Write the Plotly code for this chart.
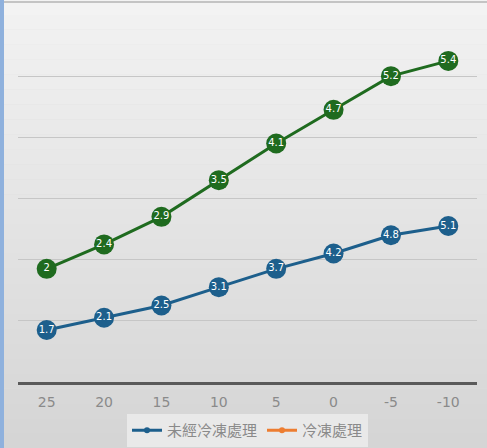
import numpy as np
import plotly.graph_objects as go

categories = ["25", "20", "15", "10", "5", "0", "-5", "-10"]
untreated = [1.7, 2.1, 2.5, 3.1, 3.7, 4.2, 4.8, 5.1]
frozen = [2, 2.4, 2.9, 3.5, 4.1, 4.7, 5.2, 5.4]
series_names = ["未經冷凍處理", "冷凍處理"]

stacked_top = (np.array(untreated) + np.array(frozen)).tolist()

def fmt(v):
    return f"{v:g}"

BLUE = "#1d5f8c"
GREEN = "#1f6b1f"
ORANGE = "#ed7d31"
FONT = "Noto Sans CJK TC, Noto Sans, sans-serif"

fig = go.Figure()
fig.add_trace(go.Scatter(
    x=categories, y=untreated, name=series_names[0],
    mode="lines+markers+text", showlegend=False,
    text=[fmt(v) for v in untreated], textposition="middle center",
    textfont=dict(color="white", size=10, family="DejaVu Sans"),
    line=dict(color=BLUE, width=3),
    marker=dict(color=BLUE, size=20),
    cliponaxis=False,
))
fig.add_trace(go.Scatter(
    x=categories, y=stacked_top, name=series_names[1],
    mode="lines+markers+text", showlegend=False,
    text=[fmt(v) for v in frozen], textposition="middle center",
    textfont=dict(color="white", size=10, family="DejaVu Sans"),
    line=dict(color=GREEN, width=3),
    marker=dict(color=GREEN, size=20),
    cliponaxis=False,
))
# legend entries as shown in the reference
for nm, col in zip(series_names, [BLUE, ORANGE]):
    fig.add_trace(go.Scatter(
        x=[None], y=[None], name=nm,
        mode="lines+markers",
        line=dict(color=col, width=3),
        marker=dict(color=col, size=6),
    ))

W, H = 487, 448
L, R, T, B = 18, 10, 15, 66
pw, ph = W - L - R, H - T - B

shapes = []
n = 30
top = np.array([0xf3, 0xf3, 0xf3])
bot = np.array([0xd5, 0xd5, 0xd5])
y0p = -B / ph
y1p = 1 + T / ph
for i in range(n):
    t = i / (n - 1)
    c = (top * (1 - t) + bot * t).astype(int)
    ya = y1p - (y1p - y0p) * i / n
    yb = y1p - (y1p - y0p) * (i + 1) / n
    shapes.append(dict(type="rect", xref="paper", yref="paper",
                       x0=-L / pw, x1=1 + R / pw, y0=yb, y1=ya,
                       fillcolor=f"rgb({c[0]},{c[1]},{c[2]})",
                       line=dict(width=0), layer="below"))
shapes.append(dict(type="rect", xref="paper", yref="paper",
                   x0=-L / pw, x1=-(L - 4) / pw, y0=y0p, y1=y1p,
                   fillcolor="#8fb1dd", line=dict(width=0), layer="below"))
shapes.append(dict(type="line", xref="paper", yref="paper",
                   x0=-(L - 4) / pw, x1=1 + R / pw, y0=1 + (T - 2) / ph, y1=1 + (T - 2) / ph,
                   line=dict(color="#c4c4c4", width=2), layer="below"))

fig.update_layout(
    width=W, height=H,
    margin=dict(l=L, r=R, t=T, b=B, pad=0, autoexpand=False),
    paper_bgcolor="#dedede", plot_bgcolor="rgba(0,0,0,0)",
    shapes=shapes,
    font=dict(family=FONT, color="#8a8a8a", size=13),
    showlegend=True,
    legend=dict(orientation="h", x=0.5, xanchor="center", y=-32 / ph, yanchor="top",
                bgcolor="#e9e9e9", font=dict(size=15, color="#8a8a8a", family=FONT),
                itemwidth=30, tracegroupgap=0),
    xaxis=dict(type="category", range=[-0.5, 7.5], showgrid=False,
               showline=True, linecolor="#5a5a5a", linewidth=2.5,
               ticks="", ticklabelstandoff=5, automargin=False,
               tickfont=dict(size=14, color="#8a8a8a", family="DejaVu Sans"),
               zeroline=False, fixedrange=True),
    yaxis=dict(range=[0, 12], dtick=2, showticklabels=False, showgrid=True,
               gridcolor="#c6c6c6", gridwidth=1, zeroline=False, showline=False,
               ticks="", fixedrange=True, automargin=False),
)

fig.write_html("out.html", config={"displayModeBar": False},
               post_script="document.body.style.margin='0';document.body.style.overflow='hidden';")
